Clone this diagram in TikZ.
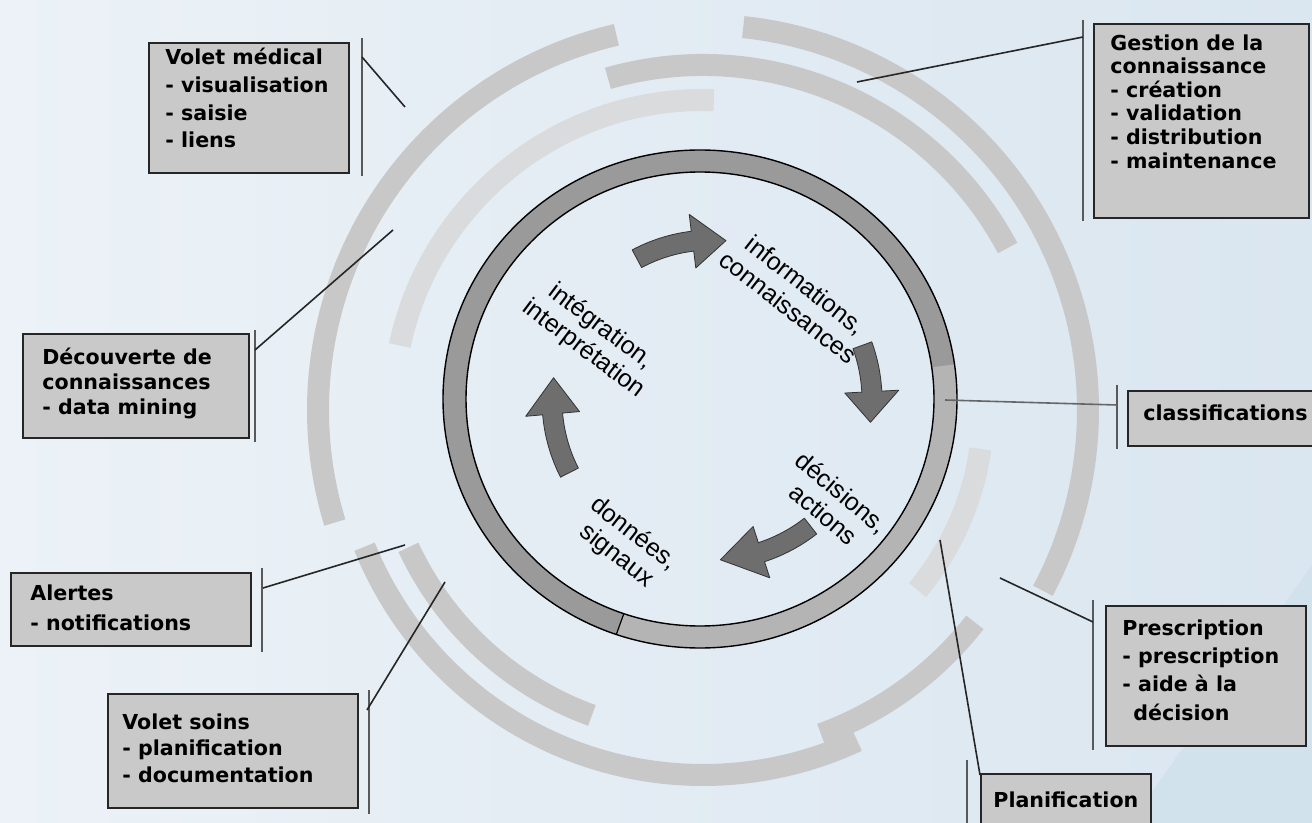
\documentclass[tikz,border=0pt]{standalone}
\usepackage{fontspec}
\setmainfont{DejaVu Sans}
\newfontfamily\labfont{Liberation Sans}
\usetikzlibrary{calc}
\definecolor{bgL}{HTML}{ECF2F7}
\definecolor{bgR}{HTML}{DAE6F0}
\definecolor{bgC}{HTML}{CFE1EC}
\definecolor{bandgray}{HTML}{C8C8C8}
\definecolor{bandlight}{HTML}{D9DBDD}
\definecolor{boxgray}{HTML}{C9C9C9}
\definecolor{ringdark}{HTML}{9A9A9A}
\definecolor{ringlight}{HTML}{B4B4B4}
\definecolor{arrowgray}{HTML}{6E6E6E}

% curved cycle arrow on a circle of radius 160 around (K):
% #1 tail angle, #2 head base angle, #3 tip angle
\newcommand\cyclearrow[3]{%
  \filldraw[arrowstyle]
    ($(K)+(#1:170)$) arc[start angle=#1, end angle=#2, radius=170]
    -- ($(K)+(#2:187)$) -- ($(K)+(#3:160)$) -- ($(K)+(#2:133)$)
    -- ($(K)+(#2:150)$) arc[start angle=#2, end angle=#1, radius=150] -- cycle;}

\begin{document}
\begin{tikzpicture}[x=0.5pt,y=0.5pt,
  band/.style={draw=bandgray, line width=11pt},
  lightband/.style={draw=bandlight, line width=11pt},
  box/.style={draw=black!85, fill=boxgray, line width=1.2pt, inner sep=0pt, anchor=north west},
  boxtext/.style={font=\bfseries\fontsize{10.3}{#1}\selectfont, align=left, inner sep=0pt, anchor=north west},
  bar/.style={draw=black!65, line width=1pt},
  link/.style={draw=black!85, line width=0.8pt},
  lab/.style={font=\labfont\fontsize{12.5}{14}\selectfont, align=center, inner sep=0pt},
  arrowstyle/.style={fill=arrowgray, draw=black!80, line width=0.4pt, line join=round}]

\useasboundingbox (0,0) rectangle (1312,-823);
\shade[left color=bgL, right color=bgR] (0,0) rectangle (1312,-823);
\fill[bgC, opacity=0.7] (1130,-823) -- (1312,-565) -- (1312,-823) -- cycle;

% centres of the concentric arcs, the ring and the cycle arrows
\coordinate (O) at (703,-410);
\coordinate (R) at (700,-399);
\coordinate (K) at (712,-400);

% outer module arcs
\draw[band] ($(O)+(103:385)$) arc[start angle=103, end angle=197, radius=385];
\draw[band] ($(O)+(84:385)$) arc[start angle=84, end angle=-28, radius=385];
\draw[band] ($(O)+(106:345)$) arc[start angle=106, end angle=28, radius=345];
\draw[lightband] ($(O)+(88:310)$) arc[start angle=88, end angle=168, radius=310];
\draw[band] ($(O)+(205:325)$) arc[start angle=205, end angle=250, radius=325];
\draw[band] ($(O)+(202:365)$) arc[start angle=202, end angle=295, radius=365];
\draw[band] ($(O)+(-38:345)$) arc[start angle=-38, end angle=-70, radius=345];
\draw[lightband] ($(O)+(-8:280)$) arc[start angle=-8, end angle=-40, radius=280];

% central ring
\fill[ringdark, even odd rule] (R) ellipse[x radius=257, y radius=249] (R) ellipse[x radius=234, y radius=227];
\fill[ringlight] ($(R)+(-109:257 and 249)$) arc[start angle=-109, end angle=8, x radius=257, y radius=249]
  -- ($(R)+(8:234 and 227)$) arc[start angle=8, end angle=-109, x radius=234, y radius=227] -- cycle;
\draw[black, line width=0.7pt] (R) ellipse[x radius=257, y radius=249];
\draw[black, line width=0.7pt] (R) ellipse[x radius=234, y radius=227];
\draw[black, line width=0.6pt] ($(R)+(-109:257 and 249)$) -- ($(R)+(-109:234 and 227)$);

% cycle arrows
\cyclearrow{118}{97}{85}
\cyclearrow{20}{3}{-8}
\cyclearrow{-52}{-72}{-87}
\cyclearrow{207}{185}{172}

% cycle labels
\node[lab, rotate=-38] (info) at (797,-296) {informations,\\connaissances};
\node[lab, rotate=-37] (integ) at (592,-338) {intégration,\\interprétation};
\node[lab, rotate=-40] (decis) at (833,-503) {décisions,\\actions};
\node[lab, rotate=-38] (donn) at (625,-545) {données,\\signaux};

% module boxes
\node[box, minimum width=100pt, minimum height=65pt] (vmbox) at (148,-42) {};
\node[boxtext=13.8] (vm) at (165,-48) {Volet médical\\- visualisation\\- saisie\\- liens};

\node[box, minimum width=107.5pt, minimum height=97pt] (gcbox) at (1093,-23) {};
\node[boxtext=11.8] (gc) at (1110,-34) {Gestion de la\\connaissance\\- création\\- validation\\- distribution\\- maintenance};

\node[box, minimum width=113pt, minimum height=52pt] (dcbox) at (22,-333) {};
\node[boxtext=12.5] (dc) at (42,-348) {Découverte de\\connaissances\\- data mining};

\node[box, minimum width=97.5pt, minimum height=27.5pt] (clbox) at (1127,-390) {};
\node[boxtext=12.5] (cl) at (1143,-404) {classifications};

\node[box, minimum width=120pt, minimum height=36.5pt] (albox) at (10,-572) {};
\node[boxtext=15] (al) at (30,-584) {Alertes\\- notifications};

\node[box, minimum width=125pt, minimum height=57pt] (vsbox) at (107,-693) {};
\node[boxtext=13.3] (vs) at (122,-713) {Volet soins\\- planification\\- documentation};

\node[box, minimum width=100pt, minimum height=70pt] (prbox) at (1105,-605) {};
\node[boxtext=14.2] (pr) at (1122,-619) {Prescription\\- prescription\\- aide à la\\\hspace*{5.5pt}décision};

\node[box, minimum width=85pt, minimum height=30pt] (plbox) at (980,-773) {};
\node[boxtext=12.5] (pl) at (993,-791) {Planification};

% side bars next to the boxes
\draw[bar] ($(vmbox.north east)+(12,4)$) -- ($(vmbox.south east)+(12,-2)$);
\draw[bar] ($(gcbox.north west)+(-10,3)$) -- ($(gcbox.south west)+(-10,-2)$);
\draw[bar] ($(dcbox.north east)+(5,3)$) -- ($(dcbox.south east)+(5,-3)$);
\draw[bar] ($(clbox.north west)+(-10,5)$) -- ($(clbox.south west)+(-10,-2)$);
\draw[bar] ($(albox.north east)+(10,4)$) -- ($(albox.south east)+(10,-5)$);
\draw[bar] ($(vsbox.north east)+(10,3)$) -- ($(vsbox.south east)+(10,-5)$);
\draw[bar] ($(prbox.north west)+(-12,5)$) -- ($(prbox.south west)+(-12,-3)$);
\draw[bar] ($(plbox.north west)+(-13,13)$) -- ($(plbox.north west)+(-13,-60)$);

% connectors
\coordinate (vmA) at (362,-57);   \coordinate (vmB) at (405,-107);
\coordinate (gcA) at (1083,-37);  \coordinate (gcB) at (857,-82);
\coordinate (dcA) at (255,-350);  \coordinate (dcB) at (393,-230);
\coordinate (clA) at (1117,-405); \coordinate (clB) at (945,-400);
\coordinate (alA) at (263,-588);  \coordinate (alB) at (405,-545);
\coordinate (vsA) at (367,-710);  \coordinate (vsB) at (445,-582);
\coordinate (prA) at (1093,-622); \coordinate (prB) at (1000,-578);
\coordinate (plA) at (980,-775);  \coordinate (plB) at (940,-540);
\draw[link] (vmA) -- (vmB);
\draw[link] (gcA) -- (gcB);
\draw[link] (dcA) -- (dcB);
\draw[link, draw=black!60] (clA) -- (clB);
\draw[link] (alA) -- (alB);
\draw[link] (vsA) -- (vsB);
\draw[link] (prA) -- (prB);
\draw[link] (plA) -- (plB);
\end{tikzpicture}
\end{document}
